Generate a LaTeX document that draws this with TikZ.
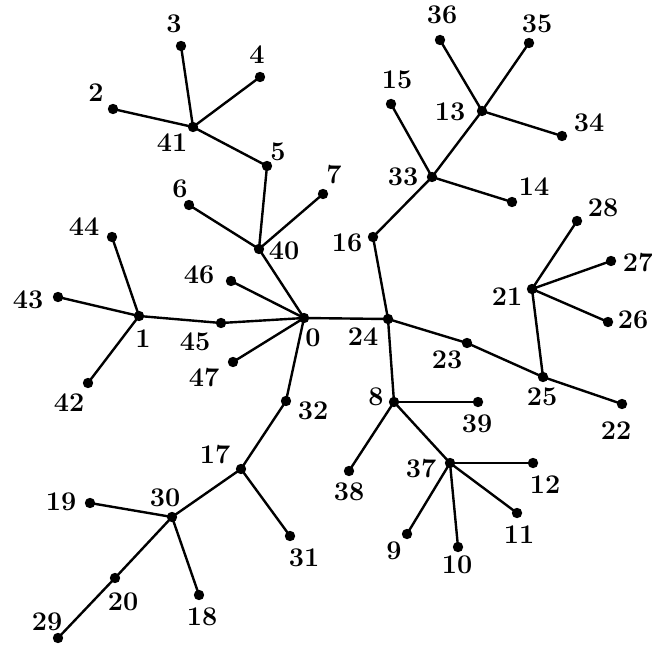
\documentclass[tikz,border=0pt]{standalone}
\usepackage{fontspec}
\begin{document}
\begin{tikzpicture}[x=0.5pt,y=-0.5pt,
  dot/.style={circle,fill=black,inner sep=0pt,minimum size=5.2pt},
  lab/.style={inner sep=0pt,font=\fontsize{13.5}{15}\selectfont\bfseries},
  edge/.style={line width=1.2pt}]
\useasboundingbox (0,0) rectangle (652,646);
\foreach \n/\x/\y in {0/304/318,24/388/319,1/139/316,45/221/323,46/231/281,47/233/362,
  40/259/249,32/286/401,6/189/205,7/323/194,5/267/166,41/193/127,3/181/46,4/260/77,
  2/113/109,44/112/237,43/58/297,42/88/383,17/241/469,30/172/517,31/290/536,19/90/503,
  18/199/595,20/115/578,29/58/638,16/373/237,33/432/177,15/391/104,14/512/202,13/482/111,
  36/440/40,35/529/43,34/562/136,23/467/343,25/543/377,22/622/404,21/532/289,28/577/221,
  27/611/261,26/608/322,8/394/402,39/478/402,38/349/471,37/450/463,12/533/463,11/517/513,
  10/458/547,9/407/534}
  \node[dot] (n\n) at (\x,\y) {};
\foreach \n/\x/\y in {0/313/338,24/363/337,1/143/339,45/195/342,46/199/275,47/204/378,
  40/284/251,32/313/411,6/180/189,7/334/175,5/278/152,41/172/143,3/174/24,4/257/55,
  2/96/93,44/84/227,43/28/300,42/69/403,17/215/455,30/165/498,31/304/558,19/61/502,
  18/202/617,20/123/602,29/47/622,16/347/243,33/403/177,15/397/80,14/534/187,13/450/112,
  36/442/15,35/537/24,34/589/123,23/447/360,25/542/397,22/616/431,21/507/297,28/603/208,
  27/638/263,26/633/320,8/376/397,39/477/424,38/349/492,37/421/469,12/545/485,11/519/535,
  10/457/565,9/394/551}
  \node[lab] (l\n) at (\x,\y) {\n};
\foreach \a/\b in {0/24,0/45,0/46,0/47,0/40,0/32,45/1,1/44,1/43,1/42,
  40/6,40/7,40/5,5/41,41/3,41/4,41/2,
  32/17,17/30,17/31,30/19,30/18,30/20,20/29,
  24/16,16/33,33/15,33/14,33/13,13/36,13/35,13/34,
  24/23,23/25,25/22,25/21,21/28,21/27,21/26,
  24/8,8/39,8/38,8/37,37/12,37/11,37/10,37/9}
  \draw[edge] (n\a.center) -- (n\b.center);
\end{tikzpicture}
\end{document}
